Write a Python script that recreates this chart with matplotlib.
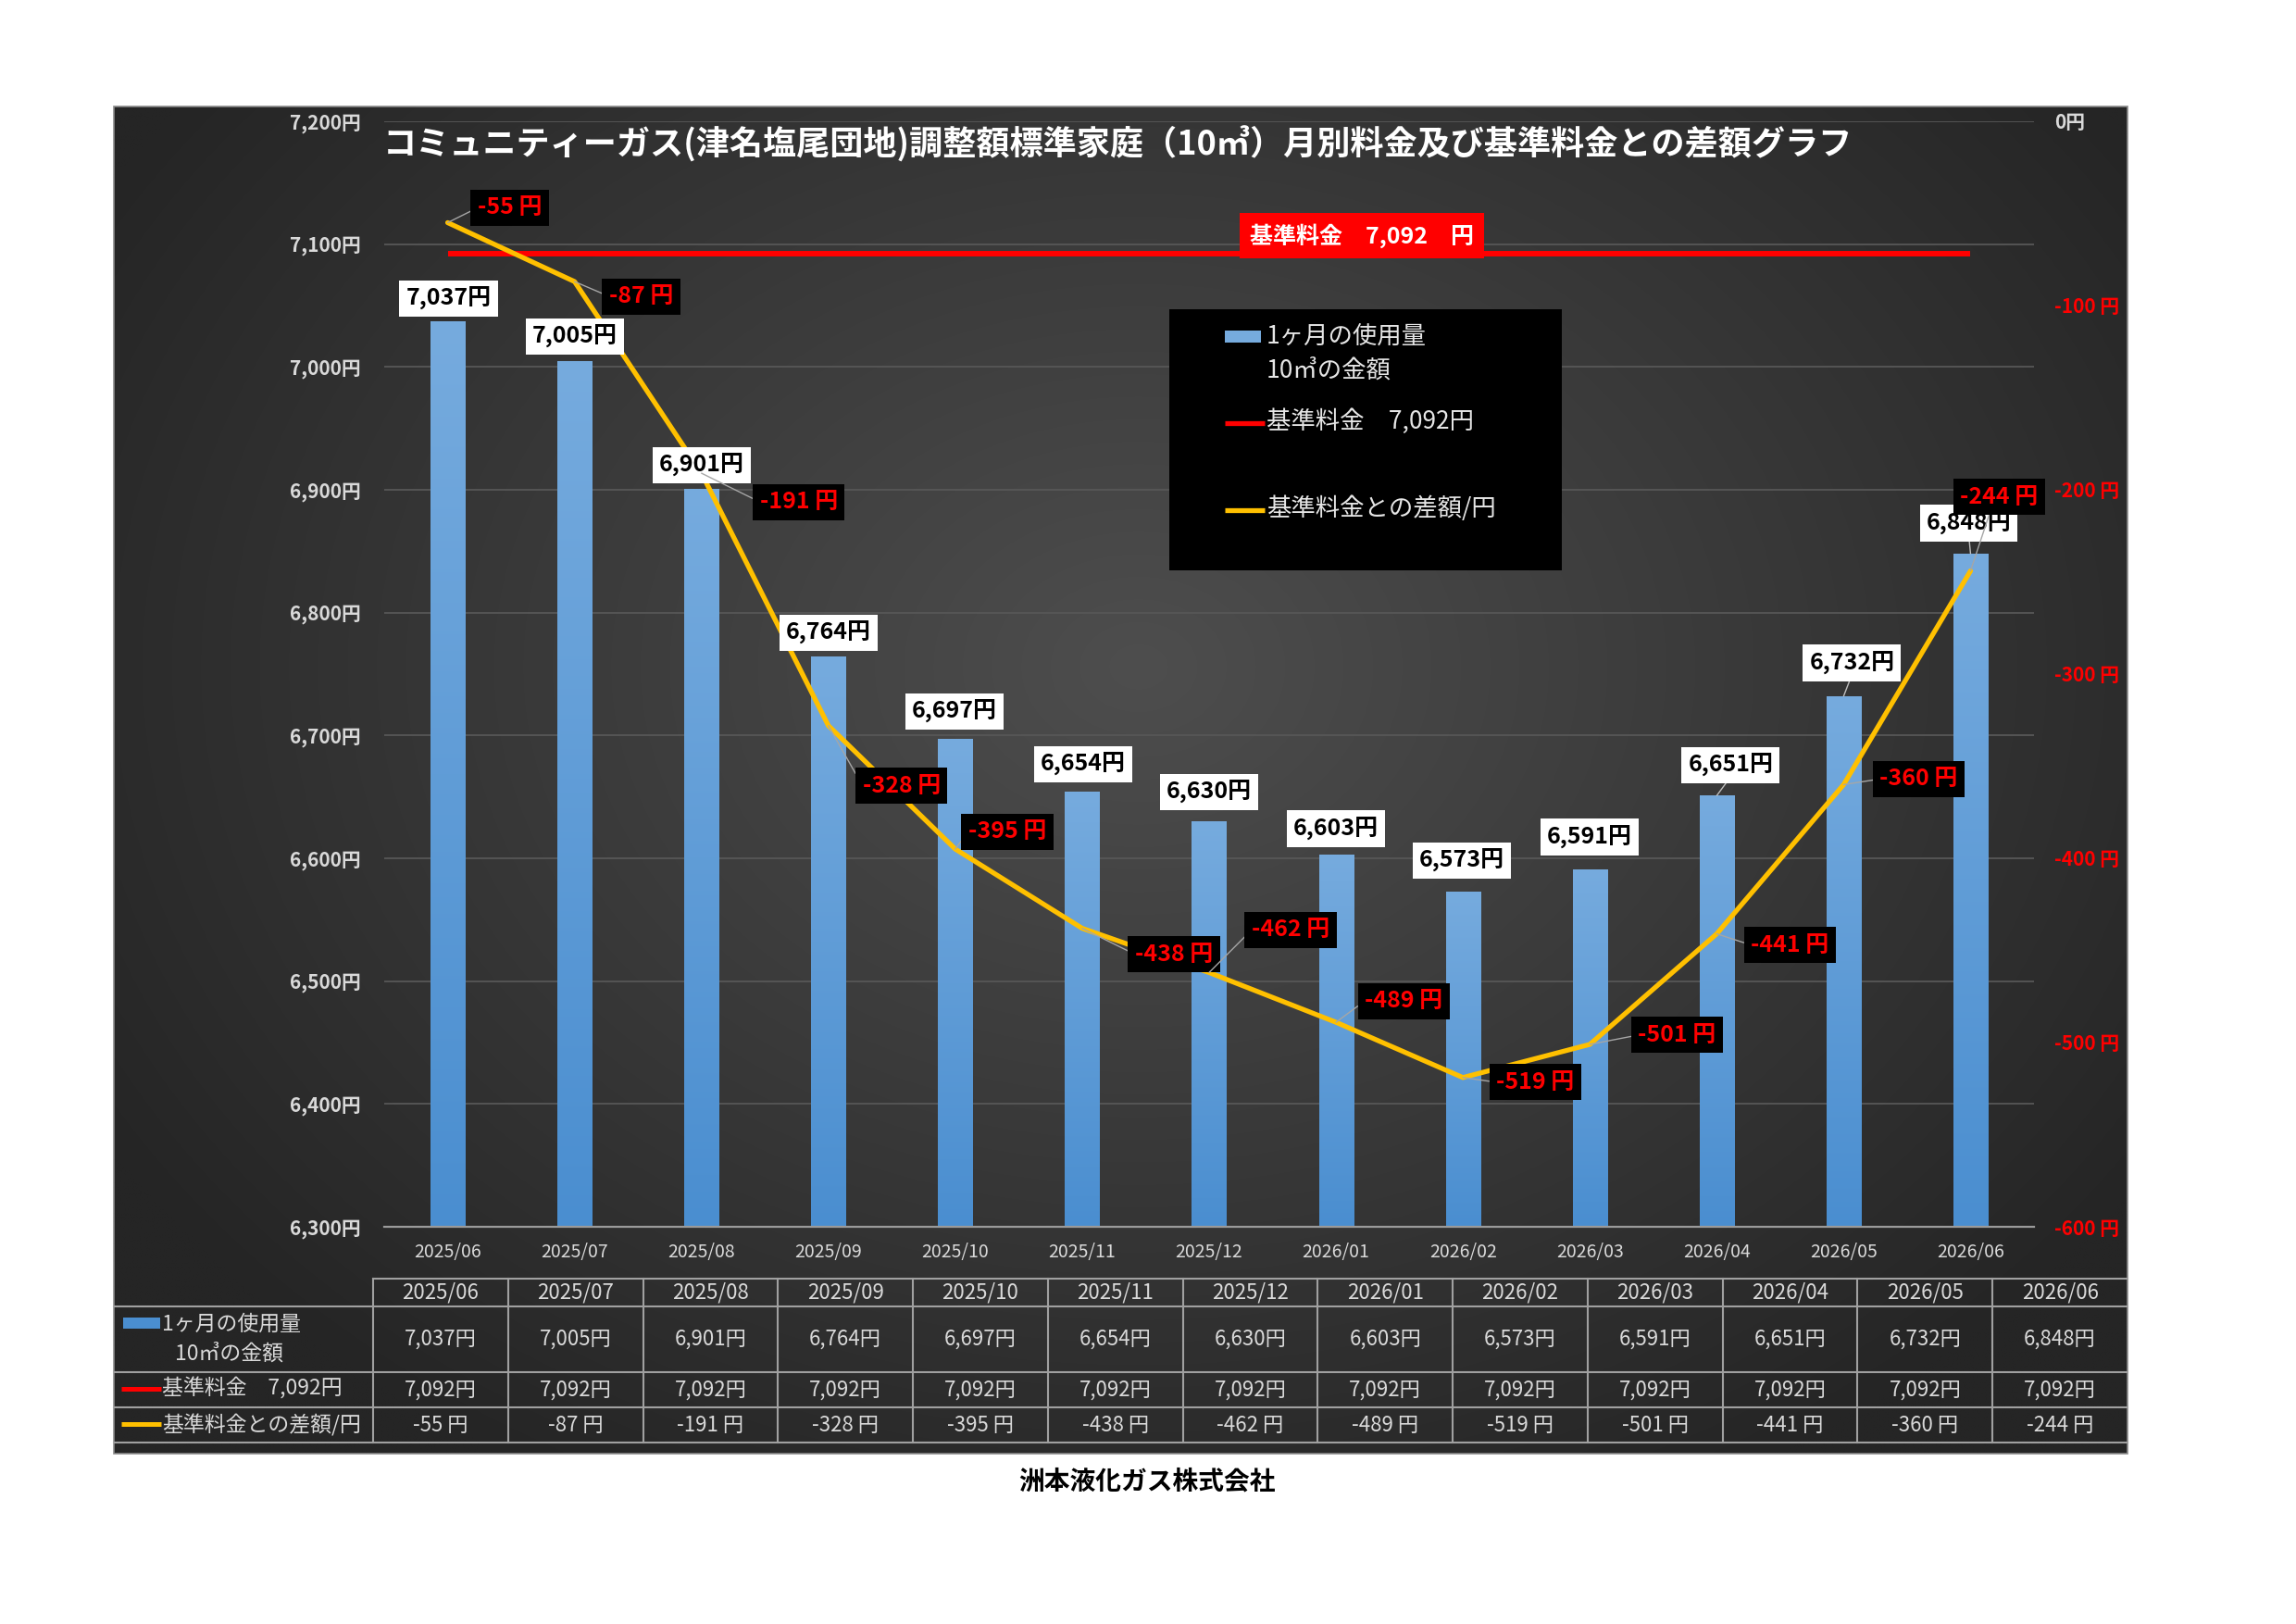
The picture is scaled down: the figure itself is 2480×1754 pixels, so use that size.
import numpy as np
import matplotlib
matplotlib.use('Agg')
import matplotlib.pyplot as plt
from matplotlib.patches import Rectangle
from matplotlib.colors import to_rgb

plt.rcParams['font.family'] = ['Noto Sans CJK JP', 'DejaVu Sans']

# ---------------- data ----------------
months = ['2025/06', '2025/07', '2025/08', '2025/09', '2025/10', '2025/11', '2025/12',
          '2026/01', '2026/02', '2026/03', '2026/04', '2026/05', '2026/06']
usage = [7037, 7005, 6901, 6764, 6697, 6654, 6630, 6603, 6573, 6591, 6651, 6732, 6848]
base_fee = [7092] * 13
diff = [-55, -87, -191, -328, -395, -438, -462, -489, -519, -501, -441, -360, -244]
left_ticks = [6300, 6400, 6500, 6600, 6700, 6800, 6900, 7000, 7100, 7200]
right_ticks = [-600, -500, -400, -300, -200, -100, 0]

title = 'コミュニティーガス(津名塩尾団地)調整額標準家庭（10㎥）月別料金及び基準料金との差額グラフ'
usage_name = ['1ヶ月の使用量', '10㎥の金額']
base_name = '基準料金　7,092円'
diff_name = '基準料金との差額/円'
base_box_label = '基準料金　7,092　円'
company = '洲本液化ガス株式会社'

# label placement (pixel offsets from the data point)
bar_lbl_off = [(1, 25), (0, 26), (0, 25), (0, 26), (-1, 30), (1, 30), (0, 32), (0, 28),
               (-1, 33), (0, 35), (15, 33), (9, 36), (-2, 33)]
bar_leader = [False] * 10 + [True] * 3
line_lbl_off = [(67, 16), (72, -16), (105, -31), (79, -65), (56, 19), (99, -28), (88, 46),
                (73, 23), (78, -5), (94, 10), (79, -12), (81, 6), (31, 80)]
line_relpos = [(0, 0.5)] * 12 + [(0.4, 0)]

# ---------------- colours ----------------
BLUE_TOP, BLUE_BOT = '#76abde', '#4a8ed0'
RED = '#ff0000'
YELLOW = '#ffc000'
GRID = '#575757'
LIGHT = '#d9d9d9'
TABLE_LINE = '#a0a0a0'

W, H = 2480, 1754
fig = plt.figure(figsize=(W / 100, H / 100), dpi=100)
fig.patch.set_facecolor('white')

# ---------------- background overlay (pixel coordinates) ----------------
ov = fig.add_axes([0, 0, 1, 1])
ov.axis('off')
fx0, fx1, fy0, fy1 = 123, 2298, 115, 1570
gx = np.linspace(fx0, fx1, 500)
gy = np.linspace(fy0, fy1, 350)
X, Y = np.meshgrid(gx, gy)
r = np.sqrt(((X - 1230) / 1300) ** 2 + ((Y - 720) / 1000) ** 2)
r = np.clip(r, 0, 1)
c_in = np.array(to_rgb('#4e4e4e'))
c_out = np.array(to_rgb('#252525'))
img = c_in[None, None, :] * (1 - r[..., None]) + c_out[None, None, :] * r[..., None]
ov.imshow(img, extent=(fx0, fx1, fy1, fy0), interpolation='bilinear', aspect='auto', zorder=0)
ov.add_patch(Rectangle((fx0, fy0), fx1 - fx0, fy1 - fy0, fill=False, ec='#8a8a8a', lw=1.2, zorder=1))
ov.set_xlim(0, W)
ov.set_ylim(H, 0)

# title
ov.text(414, 156, title, ha='left', va='center', fontsize=26, fontweight='bold', color='white', zorder=3)

# ---------------- data table ----------------
tx0 = 403
cw = (fx1 - tx0) / len(months)
rows_y = [1381, 1411, 1482, 1520, 1558]
ov.plot([tx0, fx1], [rows_y[0], rows_y[0]], color=TABLE_LINE, lw=1.5, zorder=2)
for yy in rows_y[1:]:
    ov.plot([fx0, fx1], [yy, yy], color=TABLE_LINE, lw=1.5, zorder=2)
for k in range(len(months)):
    xx = tx0 + k * cw
    ov.plot([xx, xx], [rows_y[0], rows_y[-1]], color=TABLE_LINE, lw=1.5, zorder=2)
row_mid = [(rows_y[i] + rows_y[i + 1]) / 2 for i in range(4)]
for k, m in enumerate(months):
    cx = tx0 + (k + 0.5) * cw
    ov.text(cx, row_mid[0], m, ha='center', va='center', fontsize=16, color=LIGHT, zorder=3)
    ov.text(cx, row_mid[1], f'{usage[k]:,}円', ha='center', va='center', fontsize=16, color=LIGHT, zorder=3)
    ov.text(cx, row_mid[2], f'{base_fee[k]:,}円', ha='center', va='center', fontsize=16, color=LIGHT, zorder=3)
    ov.text(cx, row_mid[3], f'{diff[k]} 円', ha='center', va='center', fontsize=16, color=LIGHT, zorder=3)
# row headers
ov.add_patch(Rectangle((133, 1423), 40, 12, fc=BLUE_BOT, ec='none', zorder=3))
ov.text(175, 1430, usage_name[0], ha='left', va='center', fontsize=16.5, color=LIGHT, zorder=3)
ov.text(189, 1462, usage_name[1], ha='left', va='center', fontsize=16.5, color=LIGHT, zorder=3)
ov.plot([131, 174], [1500, 1500], color=RED, lw=3.6, zorder=3, solid_capstyle='butt')
ov.text(175, 1500, base_name, ha='left', va='center', fontsize=16.5, color=LIGHT, zorder=3)
ov.plot([131, 174], [1538, 1538], color=YELLOW, lw=3.6, zorder=3, solid_capstyle='butt')
ov.text(175, 1539, diff_name, ha='left', va='center', fontsize=16.5, color=LIGHT, zorder=3)

# footer
ov.text(1239, 1600, company, ha='center', va='center', fontsize=20, fontweight='bold', color='black')

# ---------------- main chart ----------------
px0, px1, py_top, py_bot = 415, 2197, 131, 1325
ax = fig.add_axes([px0 / W, 1 - py_bot / H, (px1 - px0) / W, (py_bot - py_top) / H])
ax.patch.set_alpha(0)
x = np.arange(len(months))
bw = 0.27
bars = ax.bar(x, usage, width=bw, color='none', edgecolor='none', zorder=2)
grad = np.linspace(0, 1, 256)[:, None, None]
gimg = np.array(to_rgb(BLUE_BOT))[None, None, :] * (1 - grad) + np.array(to_rgb(BLUE_TOP))[None, None, :] * grad
for b, v in zip(bars, usage):
    im = ax.imshow(gimg, extent=(b.get_x(), b.get_x() + b.get_width(), left_ticks[0], v),
                   origin='lower', aspect='auto', interpolation='bilinear', zorder=2)
    im.set_clip_path(b)
ax.plot(x, base_fee, color=RED, lw=4.3, zorder=3, solid_capstyle='butt')

ax.set_xlim(-0.5, len(months) - 0.5)
ax.set_ylim(left_ticks[0], left_ticks[-1])
ax.set_yticks(left_ticks)
ax.set_yticklabels([f'{v:,}円' for v in left_ticks], fontsize=15, fontweight='bold', color=LIGHT)
ax.set_xticks(x)
ax.set_xticklabels(months, fontsize=14, color=LIGHT)
ax.tick_params(axis='y', length=0, pad=18)
ax.tick_params(axis='x', length=0, pad=12)
ax.grid(axis='y', color=GRID, lw=1.3)
ax.set_axisbelow(True)
for s in ['top', 'left', 'right']:
    ax.spines[s].set_visible(False)
ax.spines['bottom'].set_color('#9a9a9a')
ax.spines['bottom'].set_linewidth(1.6)

ax2 = ax.twinx()
ax2.patch.set_alpha(0)
ax2.plot(x, diff, color=YELLOW, lw=3.8, zorder=4, solid_joinstyle='round', solid_capstyle='round')
ax2.set_ylim(right_ticks[0], right_ticks[-1])
ax2.set_yticks(right_ticks)
ax2.set_yticklabels([f'{v} 円' if v != 0 else f'{v}円' for v in right_ticks], fontsize=15, fontweight='bold')
for lab, v in zip(ax2.get_yticklabels(), right_ticks):
    lab.set_color(LIGHT if v == 0 else RED)
ax2.tick_params(axis='y', length=0, pad=16)
for s in ax2.spines.values():
    s.set_visible(False)

# bar data labels
for i, v in enumerate(usage):
    dx, dy = bar_lbl_off[i]
    ap = dict(arrowstyle='-', color='#bfbfbf', lw=1, shrinkA=0, shrinkB=0, relpos=(0.5, 0)) if bar_leader[i] else None
    ax2.annotate(f'{v:,}円', xy=(x[i], v), xycoords=ax.transData, xytext=(dx, dy),
                 textcoords='offset pixels', ha='center', va='center', fontsize=18, fontweight='bold',
                 color='black', bbox=dict(boxstyle='square,pad=0.28', fc='white', ec='none'),
                 arrowprops=ap, zorder=6)

# line data labels
for i, d in enumerate(diff):
    dx, dy = line_lbl_off[i]
    ax2.annotate(f'{d} 円', xy=(x[i], d), xytext=(dx, dy), textcoords='offset pixels',
                 ha='center', va='center', fontsize=18, fontweight='bold', color=RED,
                 bbox=dict(boxstyle='square,pad=0.3', fc='black', ec='none'),
                 arrowprops=dict(arrowstyle='-', color='#a6a6a6', lw=1, shrinkA=0, shrinkB=0,
                                 relpos=line_relpos[i]),
                 zorder=7)

# base fee label on the red line
ax2.annotate(base_box_label, xy=(x[6], base_fee[6]), xycoords=ax.transData, xytext=(165, 20),
             textcoords='offset pixels', ha='center', va='center', fontsize=18, fontweight='bold',
             color='white', bbox=dict(boxstyle='square,pad=0.45', fc=RED, ec='none'), zorder=6)

# ---------------- legend (pixel overlay) ----------------
ov2 = fig.add_axes([0, 0, 1, 1], zorder=5)
ov2.patch.set_alpha(0)
ov2.axis('off')
ov2.set_xlim(0, W)
ov2.set_ylim(H, 0)
ov2.add_patch(Rectangle((1263, 334), 424, 282, fc='black', ec='none'))
ov2.add_patch(Rectangle((1323, 357), 39, 13, fc=BLUE_TOP, ec='none'))
ov2.text(1368, 363, usage_name[0], ha='left', va='center', fontsize=19, color='#e6e6e6')
ov2.text(1368, 400, usage_name[1], ha='left', va='center', fontsize=19, color='#e6e6e6')
ov2.plot([1323, 1366], [457, 457], color=RED, lw=3.8, solid_capstyle='butt')
ov2.text(1368, 455, base_name, ha='left', va='center', fontsize=19, color='#e6e6e6')
ov2.plot([1323, 1366], [551, 551], color=YELLOW, lw=3.8, solid_capstyle='butt')
ov2.text(1368, 549, diff_name, ha='left', va='center', fontsize=19, color='#e6e6e6')

fig.savefig('out.png', dpi=100, facecolor='white')
